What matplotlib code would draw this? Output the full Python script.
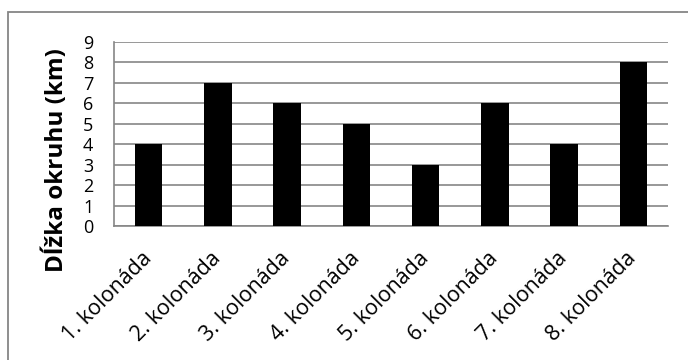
import matplotlib
matplotlib.use("Agg")
import matplotlib.pyplot as plt
from matplotlib.patches import Rectangle

categories = ["1. kolonáda", "2. kolonáda", "3. kolonáda", "4. kolonáda",
              "5. kolonáda", "6. kolonáda", "7. kolonáda", "8. kolonáda"]
values = [4, 7, 6, 5, 3, 6, 4, 8]
yticks = list(range(0, 10))
ylabel = "Dĺžka okruhu (km)"

plt.rcParams['font.family'] = ['Open Sans', 'DejaVu Sans']

fig = plt.figure(figsize=(6.88, 3.60), dpi=100)
W, H = 688, 360
ax = fig.add_axes([114 / W, 1 - 226 / H, (668 - 114) / W, (226 - 42) / H])

x = list(range(len(categories)))
ax.bar(x, values, width=0.4, color="black", zorder=3)
ax.set_xlim(-0.5, len(categories) - 0.5)
ax.set_ylim(0, 9)
ax.set_yticks(yticks)
ax.yaxis.grid(True, color="#868686", linewidth=1.2, zorder=0)
ax.set_xticks(x)
ax.set_xticklabels(categories, rotation=45, ha="right", va="center",
                   rotation_mode="anchor", fontsize=15.5)
ax.tick_params(axis="x", length=0, pad=21)
ax.tick_params(axis="y", length=0, pad=15, labelsize=13)
for s in ["top", "right"]:
    ax.spines[s].set_visible(False)
for s in ["left", "bottom"]:
    ax.spines[s].set_color("#868686")
    ax.spines[s].set_linewidth(1.2)
ax.set_ylabel(ylabel, fontsize=17.5, fontweight="bold")
ax.yaxis.set_label_coords((69 - 114) / 554, (226 - 160) / 184)

fig.patches.append(Rectangle((8 / W, -20 / H), (720 - 8) / W, (348 + 20) / H,
                             transform=fig.transFigure, fill=False,
                             edgecolor="#868686", linewidth=1.3))

fig.savefig("out.png", dpi=100)
